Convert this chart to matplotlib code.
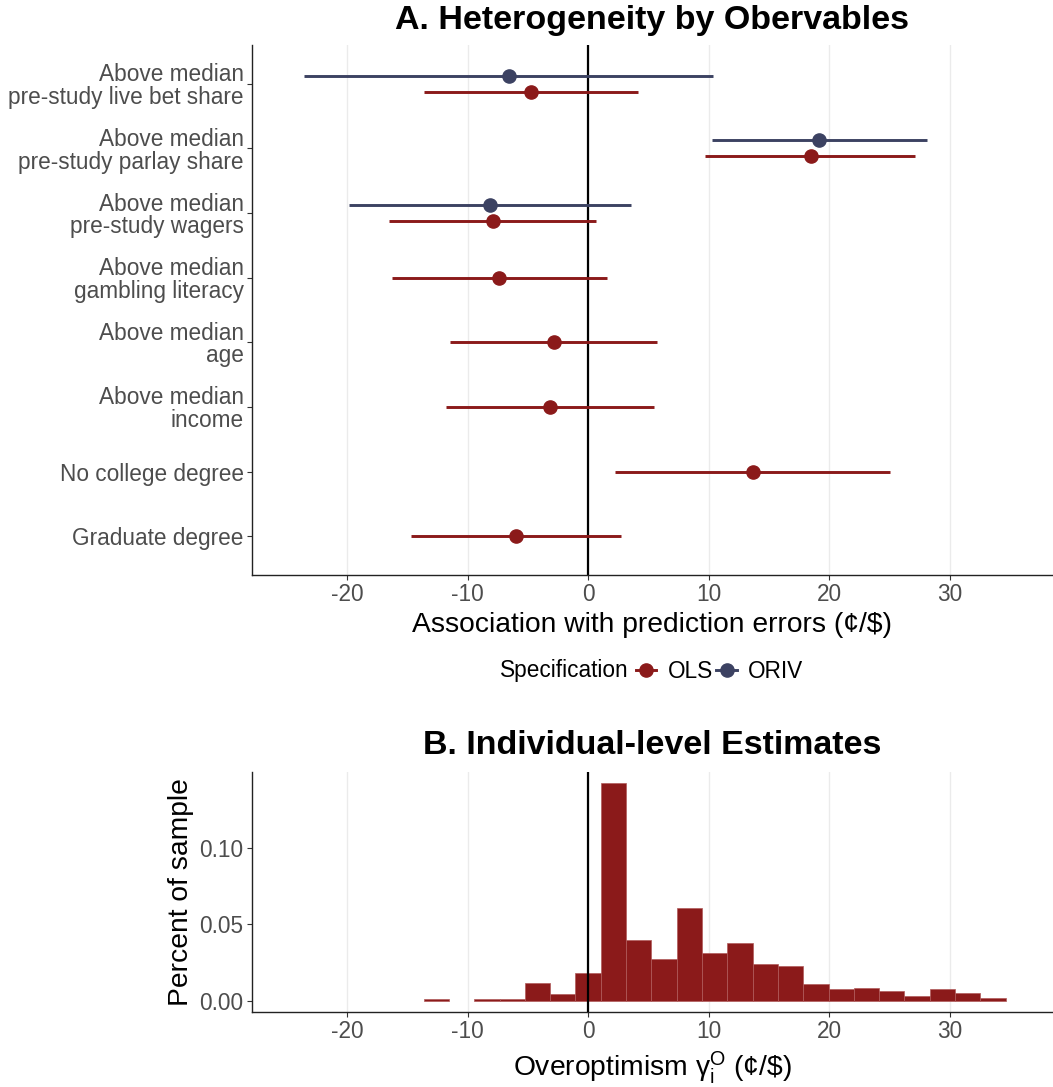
import matplotlib
matplotlib.use("Agg")
import matplotlib.pyplot as plt
from matplotlib.lines import Line2D
import numpy as np

plt.rcParams['font.family'] = ['Liberation Sans', 'DejaVu Sans']
plt.rcParams['mathtext.fontset'] = 'custom'
plt.rcParams['mathtext.rm'] = 'Liberation Sans'
plt.rcParams['mathtext.it'] = 'Liberation Sans:italic'

# ---------------- data ----------------
categories = [
    "Above median\npre-study live bet share",
    "Above median\npre-study parlay share",
    "Above median\npre-study wagers",
    "Above median\ngambling literacy",
    "Above median\nage",
    "Above median\nincome",
    "No college degree",
    "Graduate degree",
]
ols_est = [-4.77, 18.47, -7.91, -7.36, -2.85, -3.19, 13.66, -6.00]
ols_lo = [-13.66, 9.70, -16.51, -16.26, -11.45, -11.79, 2.21, -14.72]
ols_hi = [4.17, 27.15, 0.64, 1.53, 5.74, 5.45, 25.06, 2.72]

oriv_cats = [0, 1, 2]  # indices into categories
oriv_est = [-6.60, 19.19, -8.17]
oriv_lo = [-23.57, 10.26, -19.83]
oriv_hi = [10.34, 28.13, 3.53]

hist_centers = [-12.6, -10.5, -8.4, -6.3, -4.2, -2.1, 0.0, 2.1, 4.2, 6.3, 8.4,
                10.5, 12.6, 14.7, 16.8, 18.9, 21.0, 23.1, 25.2, 27.3, 29.4,
                31.5, 33.6]
hist_share = [0.0009, 0.0, 0.0009, 0.0009, 0.0117, 0.0041, 0.0183, 0.1430,
              0.0400, 0.0270, 0.0606, 0.0313, 0.0378, 0.0237, 0.0226, 0.0106,
              0.0074, 0.0085, 0.0063, 0.0030, 0.0074, 0.0052, 0.0020]
hist_binwidth = 2.1

x_ticks = [-20, -10, 0, 10, 20, 30]
x_ticklabels = ["-20", "-10", "0", "10", "20", "30"]
y_ticks_hist = [0.00, 0.05, 0.10]
y_ticklabels_hist = ["0.00", "0.05", "0.10"]

# ---------------- style ----------------
OLS_COL = "#8B1A1A"
ORIV_COL = "#3C4262"
TICK_COL = "#4D4D4D"
GRID_COL = "#EBEBEB"
XLIM = (-27.9, 38.5)
TICK_FS = 16.3
LAB_FS = 20.3
TITLE_FS = 24.5

W, H = 1053, 1087
fig = plt.figure(figsize=(W / 100, H / 100), dpi=100)

def frac_axes(left_px, top_px, right_px, bottom_px):
    return fig.add_axes([left_px / W, 1 - bottom_px / H,
                         (right_px - left_px) / W, (bottom_px - top_px) / H])

def style_axes(ax):
    for s in ["top", "right"]:
        ax.spines[s].set_visible(False)
    for s in ["left", "bottom"]:
        ax.spines[s].set_color("#222222")
        ax.spines[s].set_linewidth(1.0)
    ax.tick_params(axis="both", colors="#333333", labelcolor=TICK_COL,
                   labelsize=TICK_FS, length=3.5, width=0.8, pad=2.5)
    ax.set_xlim(*XLIM)
    ax.set_xticks(x_ticks)
    ax.set_xticklabels(x_ticklabels)
    ax.set_axisbelow(True)
    for xt in x_ticks:
        ax.axvline(xt, color=GRID_COL, lw=1.0, zorder=0)

# ---------------- panel A ----------------
ax1 = frac_axes(252, 45, 1052, 575)
style_axes(ax1)
n = len(categories)
ypos = [n - i for i in range(n)]
dodge = 0.125
ax1.set_ylim(0.4, n + 0.6)
ax1.set_yticks(ypos)
ax1.set_yticklabels(categories, linespacing=0.98)
ax1.axvline(0, color="black", lw=1.6, zorder=1)

ols_y = [ypos[i] - (dodge if i in oriv_cats else 0) for i in range(n)]
ax1.hlines(ols_y, ols_lo, ols_hi, color=OLS_COL, lw=2.1, zorder=2)
ax1.plot(ols_est, ols_y, "o", color=OLS_COL, ms=9.5, zorder=3)

oriv_y = [ypos[i] + dodge for i in oriv_cats]
ax1.hlines(oriv_y, oriv_lo, oriv_hi, color=ORIV_COL, lw=2.1, zorder=2)
ax1.plot(oriv_est, oriv_y, "o", color=ORIV_COL, ms=9.5, zorder=3)

ax1.set_xlabel("Association with prediction errors (¢/\\$)", fontsize=LAB_FS,
               color="black", labelpad=4)
fig.text(652 / W, 1 - 20 / H, "A. Heterogeneity by Obervables",
         fontsize=TITLE_FS, fontweight="bold", ha="center", va="center")

# legend
fig.text(500 / W, 1 - 671 / H, "Specification", fontsize=TICK_FS, ha="left",
         va="center")
handles = [Line2D([0], [0], color=OLS_COL, lw=2.1, marker="o", ms=9.5),
           Line2D([0], [0], color=ORIV_COL, lw=2.1, marker="o", ms=9.5)]
fig.legend(handles, ["OLS", "ORIV"], loc="center left",
           bbox_to_anchor=(636 / W, 1 - 671 / H), ncol=2, frameon=False,
           fontsize=TICK_FS, handlelength=0.9, handletextpad=0.5,
           columnspacing=0.15, borderpad=0, borderaxespad=0)

# ---------------- panel B ----------------
ax2 = frac_axes(252, 772, 1052, 1012)
style_axes(ax2)
edge_lw = [0.5 if h > 0 else 0.0 for h in hist_share]
ax2.bar(hist_centers, hist_share, width=hist_binwidth, align="center",
        color=OLS_COL, edgecolor="#B05A5A", linewidth=edge_lw, zorder=2)
ax2.axvline(0, color="black", lw=1.6, zorder=3)
ax2.set_ylim(-0.0075, 0.150)
ax2.set_yticks(y_ticks_hist)
ax2.set_yticklabels(y_ticklabels_hist)
ax2.set_ylabel("Percent of sample", fontsize=LAB_FS, color="black", labelpad=4)
ax2.set_xlabel(r"Overoptimism $\mathrm{\gamma_{i}^{O}}$ (¢/\$)",
               fontsize=LAB_FS, color="black", labelpad=4)
fig.text(652 / W, 1 - 745 / H, "B. Individual-level Estimates",
         fontsize=TITLE_FS, fontweight="bold", ha="center", va="center")

fig.savefig("out.png", dpi=100)
